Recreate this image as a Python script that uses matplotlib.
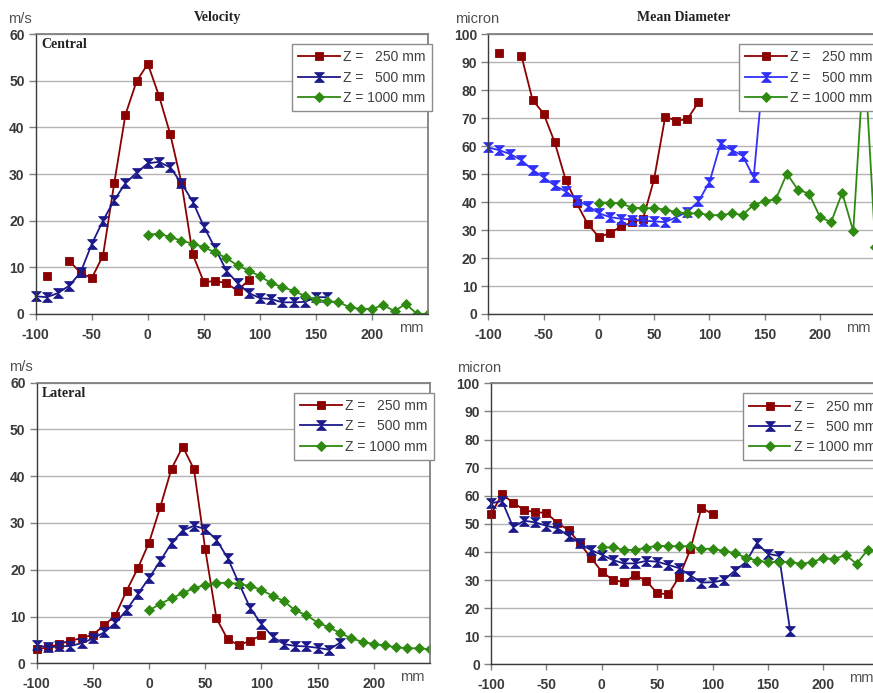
import numpy as np
import matplotlib
matplotlib.use('Agg')
from matplotlib import pyplot as plt
from matplotlib.path import Path

plt.rcParams['font.family'] = ['Liberation Sans', 'DejaVu Sans']
plt.rcParams['axes.unicode_minus'] = False

nan = np.nan

# x positions (mm)
x_250 = list(range(-90, 100, 10))
x_250_lat = list(range(-100, 110, 10))
x_500_vc = list(range(-100, 170, 10))
x_500_dc = list(range(-100, 160, 10))
x_500_lat = list(range(-100, 180, 10))
x_1000 = list(range(0, 260, 10))
x_1000_dl = list(range(0, 250, 10))

# central velocity (m/s)
vel_c_250 = [8.2, nan, 11.4, 8.8, 7.7, 12.5, 28.0, 42.7, 49.9, 53.6, 46.7, 38.5, 28.1,
             12.8, 6.8, 7.1, 6.6, 5.0, 7.3]
vel_c_500 = [3.8, 3.6, 4.5, 6.1, 8.9, 15.0, 20.0, 24.4, 28.0, 30.3, 32.3, 32.6, 31.4, 28.0,
             24.1, 18.7, 14.1, 9.3, 6.6, 4.5, 3.4, 3.2, 2.5, 2.5, 2.6, 3.6, 3.6]
vel_c_1000 = [17.0, 17.2, 16.5, 15.7, 15.1, 14.3, 13.2, 12.0, 10.4, 9.3, 8.1, 6.6, 5.8, 4.9,
              3.9, 3.1, 2.7, 2.6, 1.4, 1.1, 1.1, 1.9, 0.6, 2.2, 0.0, 0.0]

# central mean diameter (micron)
dia_c_250 = [93.3, nan, 92.2, 76.5, 71.6, 61.4, 47.9, 39.5, 32.1, 27.5, 28.8, 31.3, 32.7,
             34.0, 48.3, 70.5, 69.0, 69.6, 75.6]
dia_c_500 = [59.5, 58.5, 57.1, 54.9, 51.5, 48.8, 45.9, 43.8, 40.8, 38.6, 36.0, 34.6, 34.0,
             33.7, 33.3, 33.1, 32.8, 34.6, 36.5, 40.2, 47.1, 60.8, 58.6, 56.5, 48.8, 92.0]
dia_c_1000 = [39.8, 39.8, 39.5, 38.0, 37.8, 37.8, 37.3, 36.4, 35.9, 36.0, 35.3, 35.3, 35.9,
              35.4, 39.0, 40.3, 41.0, 50.1, 44.4, 43.0, 34.6, 32.8, 43.3, 29.6, 93.0, 24.0]

# lateral velocity (m/s)
vel_l_250 = [3.0, 3.4, 4.1, 4.8, 5.4, 6.1, 8.1, 10.2, 15.5, 20.3, 25.8, 33.4, 41.6, 46.3,
             41.5, 24.4, 9.6, 5.1, 3.9, 4.8, 6.0]
vel_l_500 = [3.9, 3.4, 3.6, 3.7, 4.3, 5.3, 6.6, 8.6, 11.4, 14.8, 18.2, 21.9, 25.7, 28.4,
             29.4, 28.7, 26.4, 22.5, 17.1, 11.8, 8.4, 5.7, 4.1, 3.7, 3.6, 3.3, 2.9, 4.4]
vel_l_1000 = [11.3, 12.7, 13.9, 15.0, 16.1, 16.7, 17.2, 17.2, 17.0, 16.5, 15.7, 14.4, 13.3,
              11.3, 10.3, 8.7, 7.7, 6.5, 5.3, 4.6, 4.1, 3.8, 3.4, 3.2, 3.2, 3.0]

# lateral mean diameter (micron)
dia_l_250 = [53.4, 60.5, 57.5, 54.9, 54.1, 53.9, 50.3, 47.8, 43.1, 38.0, 33.0, 30.0, 29.2,
             31.7, 29.8, 25.3, 24.9, 31.2, 40.9, 55.8, 53.4]
dia_l_500 = [57.3, 58.1, 48.8, 51.1, 50.5, 49.3, 48.4, 45.7, 43.1, 40.7, 39.0, 37.1, 35.9,
             35.9, 36.8, 36.5, 35.4, 34.2, 31.6, 29.1, 29.2, 29.9, 33.3, 36.3, 43.1, 39.3,
             38.6, 12.0]
dia_l_1000 = [41.6, 41.6, 40.7, 40.7, 41.5, 42.2, 42.1, 42.0, 42.0, 41.0, 41.2, 40.3, 39.6,
              38.0, 36.9, 36.4, 36.4, 36.5, 35.7, 36.5, 37.7, 37.5, 38.9, 35.8, 40.7]

labels = ['Z =   250 mm', 'Z =   500 mm', 'Z = 1000 mm']
x_ticks = [-100, -50, 0, 50, 100, 150, 200]

RED = '#8b0000'
NAVY = '#1c1a8a'
BLUE = '#3030f8'
GREEN = '#2f8a12'
TICK_COLOR = '#3a3a3a'

HOURGLASS = Path([(-1, 1), (1, 1), (-1, -1), (1, -1), (-1, 1)],
                 [Path.MOVETO, Path.LINETO, Path.LINETO, Path.LINETO, Path.CLOSEPOLY])


def draw_panel(ax, series, unit, y_max, y_step, title=None, title_x=0.5, note=None):
    ax.set_xlim(-100, 250)
    ax.set_ylim(0, y_max)
    ax.set_xticks(x_ticks)
    ax.set_yticks(np.arange(0, y_max + 1, y_step))
    ax.yaxis.grid(True, color='#b3b3b3', lw=1.0)
    ax.set_axisbelow(True)

    for side in ('top', 'right'):
        ax.spines[side].set_color('#808080')
        ax.spines[side].set_linewidth(1.3)
    for side in ('left', 'bottom'):
        ax.spines[side].set_color('#3a3a3a')
        ax.spines[side].set_linewidth(1.0)

    ax.tick_params(axis='y', length=5, width=1, color='#808080', pad=3)
    ax.tick_params(axis='x', length=4, width=1, color='#808080', pad=6)
    for lbl in ax.get_xticklabels() + ax.get_yticklabels():
        lbl.set_fontweight('bold')
        lbl.set_fontsize(10)
        lbl.set_color(TICK_COLOR)

    handles = []
    for (x, y, color, marker, ms, clip), label in zip(series, labels):
        h, = ax.plot(x, y, color=color, lw=1.3, marker=marker, ms=ms,
                     markeredgewidth=0.6, markeredgecolor=color, label=label, clip_on=clip)
        handles.append(h)

    leg = ax.legend(handles=handles, loc='upper right', bbox_to_anchor=(1.01, 0.964),
                    borderaxespad=0, fontsize=10, handlelength=3.0, handletextpad=0.25,
                    labelspacing=0.45, borderpad=0.45, fancybox=False, framealpha=1,
                    edgecolor='#8c8c8c')
    leg.get_frame().set_linewidth(1.0)
    for t in leg.get_texts():
        t.set_color('#404040')

    ax.text(-0.04, 1.055, unit, transform=ax.transAxes, ha='center', va='center',
            fontsize=10.5, color='#505050')
    ax.text(0.956, -0.05, 'mm', transform=ax.transAxes, ha='center', va='center',
            fontsize=10.5, color='#505050')
    if title:
        ax.text(title_x, 1.06, title, transform=ax.transAxes, ha='center', va='center',
                fontsize=10, fontweight='bold', family='Liberation Serif', color='#222222')
    if note:
        ax.text(0.0135, 0.962, note, transform=ax.transAxes, ha='left', va='center',
                fontsize=10, fontweight='bold', family='Liberation Serif', color='#222222')


def main():
    fig = plt.figure(figsize=(8.73, 6.93), dpi=100)
    ax_vc = fig.add_axes([0.0409, 0.5469, 0.4496, 0.4040])
    ax_dc = fig.add_axes([0.5593, 0.5469, 0.4434, 0.4040])
    ax_vl = fig.add_axes([0.0420, 0.0429, 0.4505, 0.4049])
    ax_dl = fig.add_axes([0.5624, 0.0414, 0.4442, 0.4055])

    draw_panel(ax_vc, [(x_250, vel_c_250, RED, 's', 6, False),
                       (x_500_vc, vel_c_500, NAVY, HOURGLASS, 7, False),
                       (x_1000, vel_c_1000, GREEN, 'D', 5, True)],
               'm/s', 60, 10, title='Velocity', title_x=0.462, note='Central')
    draw_panel(ax_dc, [(x_250, dia_c_250, RED, 's', 6, False),
                       (x_500_dc, dia_c_500, BLUE, HOURGLASS, 7, False),
                       (x_1000, dia_c_1000, GREEN, 'D', 5, True)],
               'micron', 100, 10, title='Mean Diameter', title_x=0.506)
    draw_panel(ax_vl, [(x_250_lat, vel_l_250, RED, 's', 6, False),
                       (x_500_lat, vel_l_500, NAVY, HOURGLASS, 7, False),
                       (x_1000, vel_l_1000, GREEN, 'D', 5, True)],
               'm/s', 60, 10, note='Lateral')
    draw_panel(ax_dl, [(x_250_lat, dia_l_250, RED, 's', 6, False),
                       (x_500_lat, dia_l_500, NAVY, HOURGLASS, 7, False),
                       (x_1000_dl, dia_l_1000, GREEN, 'D', 5, True)],
               'micron', 100, 10)
    # unit labels sit a bit closer to the axis on the diameter panels
    for ax in (ax_dc, ax_dl):
        ax.texts[0].set_x(-0.03)

    fig.savefig('out.png', dpi=100)


if __name__ == '__main__':
    main()
